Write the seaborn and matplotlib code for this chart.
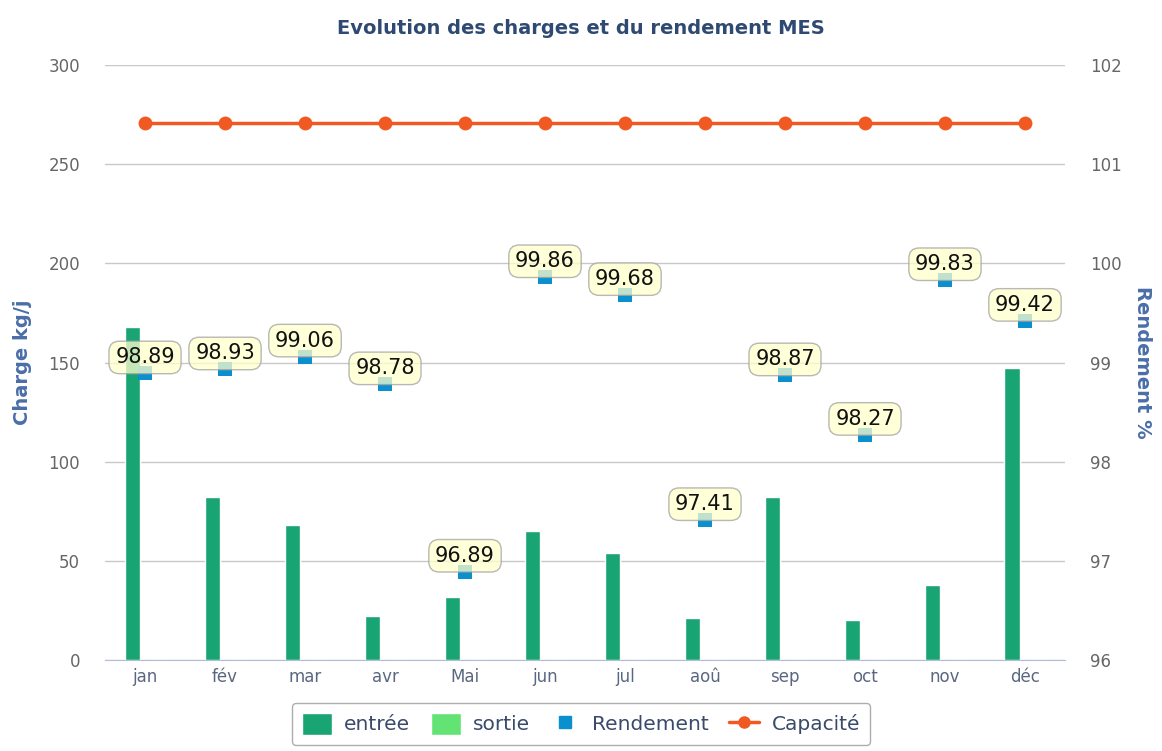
import numpy as np
import pandas as pd
import seaborn as sns
import matplotlib.pyplot as plt
from matplotlib.patches import Patch
from matplotlib.lines import Line2D

mois = ["jan", "fév", "mar", "avr", "Mai", "jun", "jul", "aoû", "sep", "oct", "nov", "déc"]
entree = [168, 82, 68, 22, 32, 65, 54, 21, 82, 20, 38, 147]
sortie = [0, 0, 0, 0, 0, 0, 0, 0, 0, 0, 0, 0]
rendement = [98.89, 98.93, 99.06, 98.78, 96.89, 99.86, 99.68, 97.41, 98.87, 98.27, 99.83, 99.42]
capacite = [271] * 12

c_entree = "#19a473"
c_sortie = "#62e373"
c_rend = "#0a8fcf"
c_cap = "#f05a22"
c_txt = "#2f4a72"

sns.set_style("white")
plt.rcParams["font.family"] = ["DejaVu Sans"]

fig = plt.figure(figsize=(11.62, 7.51), dpi=100)
ax = fig.add_axes([0.0904, 0.1212, 0.8261, 0.7922])

df = pd.DataFrame({
    "mois": mois * 2,
    "charge": entree + sortie,
    "serie": ["entrée"] * 12 + ["sortie"] * 12,
})
sns.barplot(data=df, x="mois", y="charge", hue="serie", order=mois,
            palette={"entrée": c_entree, "sortie": c_sortie},
            width=0.64, gap=0.4, saturation=1, legend=False, ax=ax, zorder=2)

x = np.arange(len(mois))
sns.lineplot(x=x, y=capacite, color=c_cap, lw=2.5, marker="o", markersize=10,
             markeredgewidth=0, ax=ax, zorder=3)

ax.set_ylim(0, 300)
ax.set_xlim(-0.5, 11.5)
ax.set_yticks(range(0, 301, 50))
ax.yaxis.grid(True, color="#c8c8c8", lw=1)
ax.set_axisbelow(True)
for s in ["top", "right", "left"]:
    ax.spines[s].set_visible(False)
ax.spines["bottom"].set_color("#b0bfd6")
ax.set_xlabel("")
ax.set_ylabel("Charge kg/j", fontsize=14, fontweight="bold", color="#4a6ea8", labelpad=12)
ax.tick_params(axis="y", length=0, labelsize=12, labelcolor="#666666", pad=18)
ax.set_xticks(x)
ax.set_xticklabels(mois)
ax.tick_params(axis="x", length=0, labelsize=12, labelcolor="#5a6780", pad=6)
ax.set_xticks(np.arange(-0.5, 12, 1), minor=True)
ax.tick_params(axis="x", which="minor", length=10, color="#b0bfd6")

ax2 = ax.twinx()
sns.scatterplot(x=x, y=rendement, color=c_rend, marker="s", s=100, linewidth=0, ax=ax2, zorder=4)
ax2.set_ylim(96, 102)
ax2.set_yticks(range(96, 103))
for s in ["top", "right", "left", "bottom"]:
    ax2.spines[s].set_visible(False)
ax2.tick_params(axis="y", length=0, labelsize=12, labelcolor="#666666", pad=18)
ax2.set_ylabel("Rendement %", fontsize=14, fontweight="bold", color="#4a6ea8",
               rotation=-90, labelpad=22)
for xi, r in zip(x, rendement):
    ax2.annotate(f"{r:.2f}", (xi, r), xytext=(0, 11.5), textcoords="offset points",
                 ha="center", va="center", fontsize=15, color="#111111", zorder=5,
                 bbox=dict(boxstyle="round,pad=0.3,rounding_size=0.5", fc="#ffffcc",
                           ec="#a0a0a0", alpha=0.75, lw=1))

fig.suptitle("Evolution des charges et du rendement MES", y=0.975, fontsize=14,
             fontweight="bold", color=c_txt)

handles = [
    Patch(facecolor=c_entree, label="entrée"),
    Patch(facecolor=c_sortie, label="sortie"),
    Line2D([], [], ls="none", marker="s", color=c_rend, markersize=8, label="Rendement"),
    Line2D([], [], color=c_cap, lw=2.5, marker="o", markersize=8, label="Capacité"),
]
leg = fig.legend(handles=handles, loc="lower center", bbox_to_anchor=(0.5, -0.005), ncol=4,
                 fontsize=14.5, frameon=True, fancybox=True, edgecolor="#999999",
                 handlelength=1.5, handleheight=1.3, columnspacing=1.0, handletextpad=0.6,
                 borderpad=0.5)
for t in leg.get_texts():
    t.set_color("#3a4a6a")

fig.savefig("out.png", dpi=100)
